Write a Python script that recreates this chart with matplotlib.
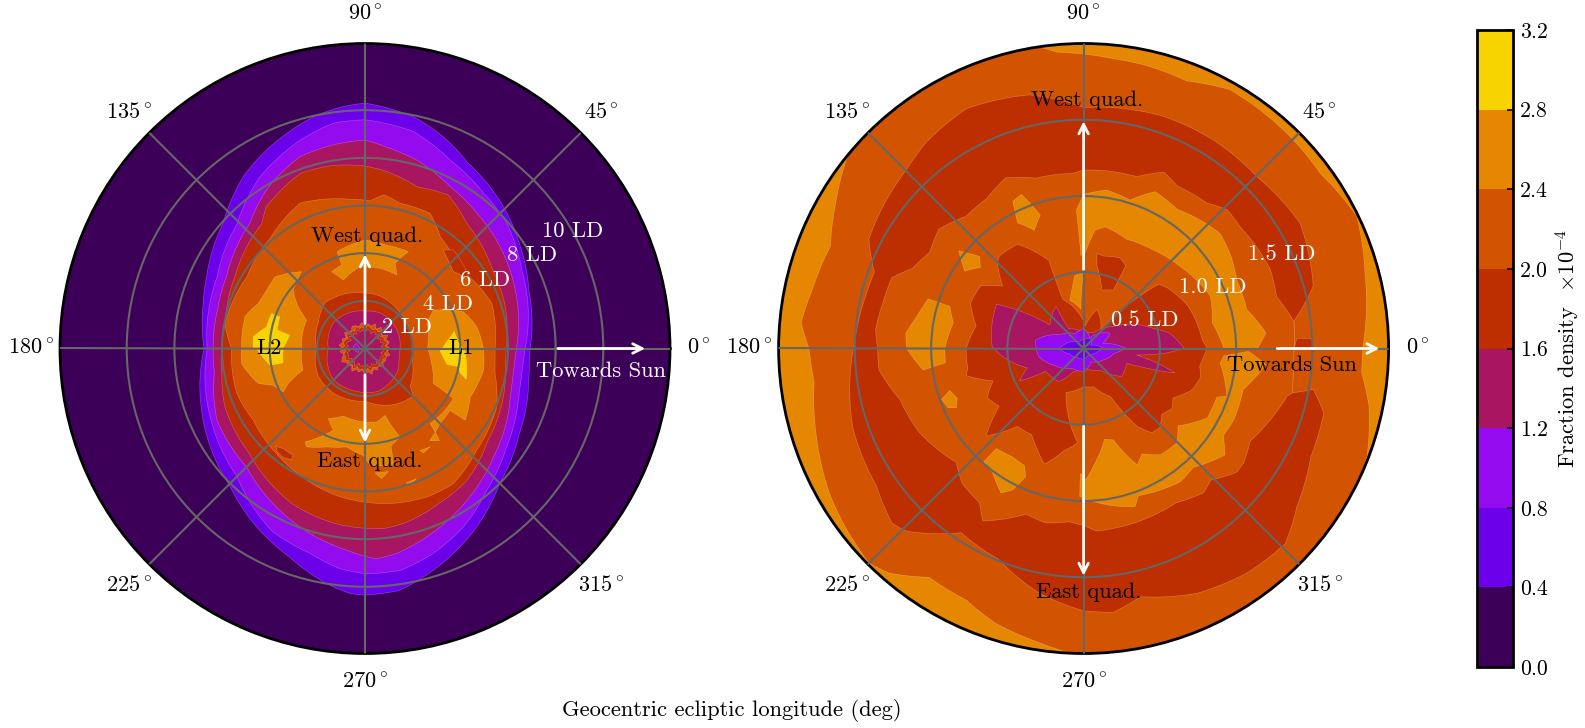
import numpy as np
import matplotlib
matplotlib.use('Agg')
import matplotlib.pyplot as plt
from matplotlib.cm import ScalarMappable
from matplotlib.colors import BoundaryNorm, ListedColormap

plt.rcParams['font.family'] = ['cmr10', 'DejaVu Serif']
plt.rcParams['mathtext.fontset'] = 'cm'
plt.rcParams['axes.formatter.use_mathtext'] = True

levels = [0.0, 0.4, 0.8, 1.2, 1.6, 2.0, 2.4, 2.8, 3.2]
colors = ['#3d0059', '#6c00ea', '#930bee', '#a81561', '#bd2e00', '#d25400', '#e58700', '#f7d300']
DARK, VIOLET, PURPLE, MAGENTA, RED, ORANGE, LIGHT, YELLOW = colors

lon_labels = [0, 45, 90, 135, 180, 225, 270, 315]

# left panel, outer edge of each density band (deg, LD)
l04_t = [0, 19.6, 33.3, 46.4, 60.8, 70.2, 78.2, 90, 95, 101.7, 116.4, 125.3, 138.6, 155.6, 164.4, 180, 199.6, 225.7, 237.5, 250, 260.7, 266.5, 270, 278, 282.6, 292, 301, 315, 331, 346.8]
l04_r = [6.93, 7.3, 7.8, 8.35, 8.9, 9.5, 9.94, 10.3, 10.2, 10.0, 9.3, 8.84, 7.94, 7.3, 7.05, 6.75, 7.3, 8.1, 8.7, 9.3, 10.0, 10.3, 10.35, 10.26, 10.0, 9.45, 8.9, 8.0, 7.4, 7.05]
l08_t = [0, 26.6, 41.4, 52.6, 65.7, 77.4, 90, 98, 107, 121.4, 135.7, 154, 163.8, 180, 203.8, 225, 243, 255, 263.5, 270, 279, 288, 298.9, 310.7, 325, 341]
l08_r = [6.72, 7.36, 7.94, 8.2, 8.68, 9.33, 9.6, 9.55, 9.17, 8.45, 7.5, 6.9, 6.78, 6.62, 7.1, 7.6, 8.6, 8.9, 9.3, 9.45, 9.43, 9.08, 8.55, 7.84, 7.24, 6.8]
l12_t = [0, 21, 37, 50, 62, 74.7, 84, 90, 98.9, 108.8, 122, 132.6, 152.6, 165, 180, 189, 205.8, 225, 242, 254.5, 264.8, 273, 278.8, 292.8, 305, 319.8, 340]
l12_r = [6.35, 6.76, 7.1, 7.36, 7.67, 8.2, 8.5, 8.75, 8.65, 8.5, 7.83, 7.14, 6.55, 6.4, 6.37, 6.4, 6.9, 7.03, 7.67, 8.14, 8.5, 8.84, 8.7, 8.13, 7.63, 7.06, 6.47]
l16_t = [0, 16.6, 32, 50.9, 61.5, 72, 83, 90, 100, 110, 124.8, 129.6, 151, 170, 190, 202.6, 222, 245, 260, 275.8, 283.5, 295.8, 307.7, 323, 346]
l16_r = [5.92, 6.14, 6.3, 6.77, 7.33, 7.13, 7.48, 7.66, 7.8, 7.84, 7.25, 6.8, 6.24, 5.95, 6.1, 6.37, 6.55, 7.2, 7.45, 7.6, 7.5, 7.2, 7.0, 6.45, 6.06]
l20_t = [0, 19.6, 35, 46, 56, 64.3, 76.4, 83, 88, 96, 114, 130.8, 148.8, 170, 180, 199, 212.7, 230, 244, 260, 280, 292.6, 303, 317.7, 336, 349]
l20_r = [5.46, 5.65, 5.3, 5.35, 5.65, 6.3, 6.27, 6.5, 6.2, 6.3, 6.68, 6.1, 5.8, 5.97, 5.6, 5.7, 5.57, 5.77, 6.0, 6.3, 6.6, 6.75, 6.78, 6.34, 6.05, 5.56]
l_wedge_t = [51.5, 48, 33, 41]
l_wedge_r = [5.28, 5.56, 5.27, 4.92]
l_blot_t = [227.6, 230.8, 236, 236.5, 233.2, 229.7]
l_blot_r = [5.55, 5.42, 5.4, 5.59, 5.72, 5.69]

# left panel, islands around L1, L2 and the quadratures
l2_blob_t = [141.5, 129.6, 140.9, 146.6, 154, 180, 199, 204.5, 208, 201.8, 198, 187, 180, 165, 157]
l2_blob_r = [4.83, 4.18, 3.88, 3.43, 2.73, 2.66, 2.75, 3.54, 3.88, 4.15, 4.72, 5.22, 5.18, 5.21, 4.86]
l2_core_t = [180, 174, 167.6, 159.4, 159.6, 168, 170, 175, 180, 190, 190, 180]
l2_core_r = [4.69, 4.72, 4.23, 4.19, 3.81, 3.76, 3.2, 3.3, 3.43, 3.49, 4.05, 4.55]
l1_blob_t = [29.3, 20.4, 11, 0, -10.4, -24.7, -35.6, -36, -45, -55, -51, -49, -38, -29.5, -27.1, -13, 0, 22]
l1_blob_r = [3.29, 4.41, 4.78, 4.97, 5.06, 4.86, 5.17, 4.41, 4.45, 4.72, 4.97, 4.17, 4.24, 4.26, 3.22, 2.87, 2.62, 2.8]
l1_core_t = [-2, 5, 11, 3.5, -1.5, -17, -14.4, -11, -11]
l1_core_r = [3.15, 3.45, 3.81, 3.93, 4.2, 4.44, 4.12, 3.99, 3.5]
west_isl_t = [106, 90, 78, 65.9, 70.6, 66.6, 79.4, 93.5, 107.6, 113.5, 105.6]
west_isl_r = [4.23, 4.55, 4.43, 4.45, 3.79, 3.36, 3.42, 3.44, 3.01, 3.51, 3.64]
east_isl_t = [242.4, 252, 268.7, 279, 286.7, 289.5, 291.6, 285, 283.7, 272.5, 269, 259.4, 248.7, 239.3, 237.3, 243, 248.8]
east_isl_r = [3.32, 2.98, 3.08, 3.12, 2.93, 3.57, 3.99, 4.21, 5.04, 4.9, 4.48, 4.2, 4.43, 4.8, 4.66, 4.16, 3.68]
speck1_t = [274.6, 280.8, 277.3]
speck1_r = [5.24, 5.25, 5.5]
speck2_t = [287, 291.4, 289]
speck2_r = [5.9, 5.87, 6.02]
speck3_t = [298.4, 303.5, 299.2]
speck3_r = [4.86, 4.95, 5.02]

# left panel, centre
l_disk_t = [0, 45.5, 74, 90, 112, 131, 151, 180, 210.7, 234.5, 270, 296.7, 315.4, 320, 336.5]
l_disk_r = [1.97, 2.1, 2.29, 2.33, 2.45, 2.55, 2.24, 2.03, 2.28, 2.29, 2.21, 2.64, 2.85, 2.47, 2.2]
l_mag_t = [0, 31, 67, 90, 102.6, 141, 180, 224, 259, 287, 327.8]
l_mag_r = [1.47, 1.55, 1.62, 1.57, 1.61, 1.71, 1.54, 1.86, 1.83, 1.88, 1.65]
ring_t = np.arange(0, 360, 7.5)
ring_orange = [1.04, 0.92, 1.06, 0.95, 1.1, 0.9, 1.02, 1.12, 0.93, 1.12, 0.96, 1.05, 0.9, 1.1, 0.94, 1.03,
               1.08, 0.92, 1.0, 1.08, 0.9, 1.04, 0.96, 1.1, 0.93, 1.06, 0.9, 1.03, 1.12, 0.95, 1.04, 0.9,
               1.1, 0.94, 1.02, 0.9, 1.08, 0.97, 1.12, 0.92, 1.04, 0.9, 1.08, 0.95, 1.01, 0.9, 1.08, 0.94]
ring_red = [0.93, 0.84, 0.98, 0.86, 0.92, 0.82, 1.0, 0.88, 0.95, 0.84, 0.9, 0.98, 0.8, 0.92, 0.86, 1.0,
            0.84, 0.93, 0.86, 0.98, 0.82, 0.9, 0.95, 0.85, 1.0, 0.8, 0.92, 0.88, 0.96, 0.84, 0.93, 0.86,
            1.0, 0.82, 0.92, 0.86, 0.95, 0.84, 0.98, 0.85, 0.9, 0.96, 0.82, 0.93, 0.86, 0.98, 0.84, 0.92]
ring_inner = [0.8, 0.68, 0.84, 0.7, 0.78, 0.66, 0.86, 0.72, 0.82, 0.68, 0.76, 0.84, 0.64, 0.8, 0.72, 0.86,
              0.68, 0.8, 0.7, 0.84, 0.66, 0.76, 0.82, 0.7, 0.86, 0.64, 0.78, 0.74, 0.82, 0.68, 0.8, 0.7,
              0.86, 0.66, 0.78, 0.72, 0.82, 0.68, 0.84, 0.7, 0.76, 0.82, 0.66, 0.8, 0.72, 0.84, 0.68, 0.78]
l_core_t = [150, 175, 190, 210, 185]
l_core_r = [0.42, 0.5, 0.42, 0.34, 0.2]

# right panel, edges of the bands
r24_t = [0, 15, 25.8, 36.6, 45, 60.5, 68.9, 77.4, 84, 90, 95, 100, 139, 150, 158, 167.7, 174.8, 180, 187, 197.5, 210, 225, 229, 236, 245, 252, 261.4, 270, 329.5, 339, 348.5, 355]
r24_r = [1.83, 1.91, 1.99, 1.93, 1.94, 1.95, 1.88, 1.9, 1.91, 1.93, 1.95, 2.02, 2.02, 1.88, 1.79, 1.82, 1.86, 1.8, 1.78, 1.84, 1.92, 1.99, 1.95, 1.81, 1.82, 1.89, 1.95, 2.02, 2.02, 1.99, 1.91, 1.83]
r20o_t = [0, 7.4, 15.2, 30, 44.8, 58, 71, 90, 102, 116, 127.5, 134.8, 153, 160, 166.5, 178, 199, 213.5, 222.4, 225.8, 236.4, 248, 259.7, 270, 276.5, 282.9, 295, 306, 316, 323.5, 334.6, 345, 349.9, 348]
r20o_r = [1.38, 1.39, 1.56, 1.64, 1.6, 1.61, 1.61, 1.58, 1.7, 1.75, 1.7, 1.65, 1.58, 1.46, 1.47, 1.5, 1.6, 1.63, 1.7, 1.67, 1.45, 1.49, 1.63, 1.72, 1.74, 1.67, 1.77, 1.82, 1.84, 1.74, 1.65, 1.63, 1.53, 1.4]
r20i_t = [0, 7.4, 15, 23, 38, 44, 49.7, 60, 65.5, 72.8, 90, 93.6, 105.6, 114.5, 123, 131.6, 140.5, 148, 155, 159.7, 167, 174.8, 180, 185.9, 195.5, 207, 221.8, 228, 236, 239.7, 250.8, 257.8, 265.3, 270, 274, 288, 301, 309.7, 314, 321, 324.5, 331, 339, 346.8, 348]
r20i_r = [1.38, 1.39, 1.31, 1.33, 1.3, 1.31, 1.25, 1.23, 1.27, 1.18, 1.17, 1.15, 1.16, 1.23, 1.17, 1.16, 1.23, 1.19, 1.24, 1.34, 1.35, 1.37, 1.35, 1.35, 1.25, 1.21, 1.12, 1.19, 1.22, 1.31, 1.15, 1.17, 1.14, 1.16, 1.2, 1.19, 1.18, 1.23, 1.2, 1.29, 1.29, 1.25, 1.31, 1.37, 1.4]
r_patch_t = [0, 2.7, 2.5, 0]
r_patch_r = [1.38, 1.40, 1.49, 1.52]

# right panel, light islands
isl_a_t = [90, 81.7, 72.6, 65.5, 56, 45, 40, 32, 24, 13.4, 4.9, 0, 0, 11.3, 22.4, 40.4, 55.4, 68.3, 80, 84.4, 89, 91.7, 93]
isl_a_r = [1.01, 1.05, 1.02, 1.13, 1.1, 1.15, 1.17, 1.14, 1.1, 1.1, 1.2, 1.14, 0.92, 0.86, 0.9, 0.83, 0.79, 0.77, 0.81, 0.78, 0.63, 0.61, 0.91]
isl_b_t = [359, 355, 345.6, 334.7, 328, 323, 312.7, 306, 290.4, 288, 280.8, 271, 268.5, 268.5, 271, 275, 283, 288, 294.7, 299, 305.9, 314.7, 320.7, 330.7, 340, 341.6, 354, 357]
isl_b_r = [1.08, 1.2, 1.08, 1.09, 1.08, 1.16, 1.06, 1.08, 1.03, 1.09, 1.05, 0.99, 0.97, 0.82, 0.86, 0.77, 0.61, 0.63, 0.84, 0.79, 0.86, 0.87, 0.8, 0.93, 0.93, 0.99, 0.9, 0.92]
isl_c_t = [106, 94, 90, 97]
isl_c_r = [0.33, 0.26, 0.5, 0.48]
isl_d_t = [115.7, 112, 108, 112.6, 117.7]
isl_d_r = [1.07, 1.09, 0.92, 0.84, 0.93]
isl_e_t = [142, 138.5, 141.8, 147]
isl_e_r = [1.04, 0.91, 0.86, 0.93]
isl_f_t = [162.3, 162.5, 168.8, 180, 185.9, 187.7, 183, 180, 175]
isl_f_r = [1.07, 0.92, 0.87, 0.91, 0.91, 1.06, 1.12, 1.16, 1.17]
isl_g_t = [197.4, 201.4, 205, 203.6, 199.7]
isl_g_r = [0.92, 0.89, 0.92, 0.97, 0.99]
isl_h_t = [228.9, 236.6, 243.2, 245.7, 243.3, 240.2, 233.8, 228.6]
isl_h_r = [0.87, 0.85, 0.86, 0.92, 1.04, 1.09, 1.01, 0.99]

# right panel, centre
r_red_t = [0, 4.3, 22, 35.5, 40.5, 42.8, 48.7, 71, 85, 94.7, 113, 111.5, 122.4, 132.4, 135, 142.4, 148.7, 158, 168, 180, 189.5, 193, 199.7, 207, 214.4, 221.9, 229.6, 239, 245.5, 251.3, 259.3, 266.4, 256, 248.3, 270, 284.9, 299.2, 304.5, 309, 314, 320, 326, 331, 339, 346, 351.4]
r_red_r = [0.81, 0.78, 0.74, 0.68, 0.65, 0.52, 0.17, 0.27, 0.15, 0.21, 0.35, 0.62, 0.81, 0.82, 0.8, 0.67, 0.79, 0.8, 0.72, 0.77, 0.77, 0.79, 0.63, 0.71, 0.67, 0.86, 0.67, 0.66, 0.73, 0.8, 0.68, 0.62, 0.43, 0.31, 0.25, 0.26, 0.36, 0.62, 0.71, 0.72, 0.67, 0.7, 0.67, 0.76, 0.79, 0.77]
r_red2_t = [82, 77.8, 68, 63, 63, 72.7, 80.8]
r_red2_r = [0.63, 0.62, 0.64, 0.61, 0.43, 0.4, 0.55]
r_mag_t = [0, 10.4, 15.7, 36.7, 57, 90, 127, 123, 145, 148, 153, 178.5, 184, 199, 207, 211, 233.3, 245.6, 270, 308, 324, 341, 345, 353, 357]
r_mag_r = [0.66, 0.57, 0.48, 0.24, 0.12, 0.1, 0.16, 0.33, 0.27, 0.42, 0.64, 0.6, 0.55, 0.39, 0.47, 0.29, 0.27, 0.17, 0.12, 0.18, 0.31, 0.3, 0.62, 0.35, 0.55]
r_pur_t = [0, 15, 30, 60, 90, 120, 150, 170, 180, 190, 210, 240, 270, 300, 330, 350]
r_pur_r = [0.28, 0.13, 0.2, 0.08, 0.13, 0.11, 0.18, 0.32, 0.31, 0.3, 0.22, 0.15, 0.15, 0.1, 0.15, 0.2]
r_vio_t = [0, 25, 50, 90, 130, 165, 180, 200, 235, 270, 310, 345]
r_vio_r = [0.13, 0.05, 0.08, 0.06, 0.05, 0.12, 0.16, 0.1, 0.07, 0.07, 0.05, 0.09]


def patch(ax, t, r, c):
    p, = ax.fill(np.radians(t), r, facecolor=c, edgecolor=(1, 1, 1, 0.3), lw=0.4)
    # follow the polar curve between the points instead of straight chords
    p.get_path()._interpolation_steps = 12


def setup(ax, rings, rmax, base):
    ax.set_facecolor(base)
    ax.set_ylim(0, rmax)
    ax.set_yticks(rings)
    ax.set_yticklabels([])
    ax.set_thetagrids(lon_labels, [r'$%d^\circ$' % d for d in lon_labels], fontsize=16)
    ax.tick_params(axis='x', pad=10.5)
    ax.set_axisbelow(False)
    ax.grid(True, color='#666666', lw=1.5, ls='-')
    ax.spines['polar'].set_linewidth(2)


def arrow(ax, t0, r0, t1, r1):
    ax.annotate('', xy=(np.radians(t1), r1), xytext=(np.radians(t0), r0),
                arrowprops=dict(arrowstyle='->', color='white', lw=2, mutation_scale=17,
                                shrinkA=0, shrinkB=0), zorder=6)


def label(ax, t, r, s, c='black'):
    ax.text(np.radians(t), r, s, color=c, fontsize=16.2, ha='center', va='center', zorder=7)


fig = plt.figure(figsize=(15.85, 7.28), dpi=100)
ax1 = fig.add_axes([60 / 1585, 74.5 / 728, 610 / 1585, 610 / 728], projection='polar')
ax2 = fig.add_axes([778.6 / 1585, 74.5 / 728, 610 / 1585, 610 / 728], projection='polar')

patch(ax1, l04_t, l04_r, VIOLET)
patch(ax1, l08_t, l08_r, PURPLE)
patch(ax1, l12_t, l12_r, MAGENTA)
patch(ax1, l16_t, l16_r, RED)
patch(ax1, l20_t, l20_r, ORANGE)
patch(ax1, l_wedge_t, l_wedge_r, RED)
patch(ax1, l_blot_t, l_blot_r, RED)
patch(ax1, l2_blob_t, l2_blob_r, LIGHT)
patch(ax1, l2_core_t, l2_core_r, YELLOW)
patch(ax1, l1_blob_t, l1_blob_r, LIGHT)
patch(ax1, l1_core_t, l1_core_r, YELLOW)
patch(ax1, west_isl_t, west_isl_r, LIGHT)
patch(ax1, east_isl_t, east_isl_r, LIGHT)
patch(ax1, speck1_t, speck1_r, LIGHT)
patch(ax1, speck2_t, speck2_r, LIGHT)
patch(ax1, speck3_t, speck3_r, LIGHT)
patch(ax1, l_disk_t, l_disk_r, RED)
patch(ax1, l_mag_t, l_mag_r, MAGENTA)
patch(ax1, ring_t, ring_orange, ORANGE)
patch(ax1, ring_t, ring_red, RED)
patch(ax1, ring_t, ring_inner, MAGENTA)
patch(ax1, l_core_t, l_core_r, PURPLE)
setup(ax1, [2, 4, 6, 8, 10], 12.8, DARK)

patch(ax2, r24_t, r24_r, ORANGE)
patch(ax2, r20o_t, r20o_r, RED)
patch(ax2, r20i_t, r20i_r, ORANGE)
patch(ax2, r_patch_t, r_patch_r, RED)
for t, r in [(isl_a_t, isl_a_r), (isl_b_t, isl_b_r), (isl_c_t, isl_c_r), (isl_d_t, isl_d_r),
             (isl_e_t, isl_e_r), (isl_f_t, isl_f_r), (isl_g_t, isl_g_r), (isl_h_t, isl_h_r)]:
    patch(ax2, t, r, LIGHT)
patch(ax2, r_red_t, r_red_r, RED)
patch(ax2, r_red2_t, r_red2_r, RED)
patch(ax2, r_mag_t, r_mag_r, MAGENTA)
patch(ax2, r_pur_t, r_pur_r, PURPLE)
patch(ax2, r_vio_t, r_vio_r, VIOLET)
setup(ax2, [0.5, 1.0, 1.5], 2.0, LIGHT)

arrow(ax1, 90, 1.05, 90, 3.95)
arrow(ax1, 270, 1.1, 270, 3.95)
arrow(ax1, 0, 8.1, 0, 11.76)
arrow(ax2, 90, 0.52, 90, 1.49)
arrow(ax2, 270, 0.51, 270, 1.49)
arrow(ax2, 0, 1.27, 0, 1.94)

label(ax1, 89, 4.71, 'West quad.')
label(ax1, 272.6, 4.72, 'East quad.')
label(ax1, 354.6, 9.94, 'Towards Sun', 'white')
label(ax1, 180, 4.03, 'L2')
label(ax1, 0, 4.03, 'L1')
label(ax1, 26.6, 1.99, '2 LD', 'white')
label(ax1, 28.2, 3.95, '4 LD', 'white')
label(ax1, 29.7, 5.82, '6 LD', 'white')
label(ax1, 29.1, 8.03, '8 LD', 'white')
label(ax1, 29.5, 10.0, '10 LD', 'white')

label(ax2, 89.3, 1.63, 'West quad.')
label(ax2, 271.2, 1.6, 'East quad.')
label(ax2, 355.3, 1.37, 'Towards Sun')
label(ax2, 25, 0.44, '0.5 LD', 'white')
label(ax2, 25.5, 0.94, '1.0 LD', 'white')
label(ax2, 25.4, 1.44, '1.5 LD', 'white')

fig.text(732 / 1585, 1 - 710.6 / 728, 'Geocentric ecliptic longitude (deg)', fontsize=16.2,
         ha='center', va='center')

cax = fig.add_axes([1477 / 1585, 61 / 728, 36 / 1585, 637 / 728])
sm = ScalarMappable(norm=BoundaryNorm(levels, len(colors)), cmap=ListedColormap(colors))
cb = fig.colorbar(sm, cax=cax, ticks=levels, format='%.1f', spacing='proportional')
cb.ax.tick_params(direction='in', length=4, width=1.2, labelsize=15.7, pad=5)
cb.ax.minorticks_off()
cb.outline.set_linewidth(2)
cb.set_label(r'Fraction density  $\times 10^{-4}$', fontsize=16.2, labelpad=4)

fig.savefig('out.png', dpi=100)
